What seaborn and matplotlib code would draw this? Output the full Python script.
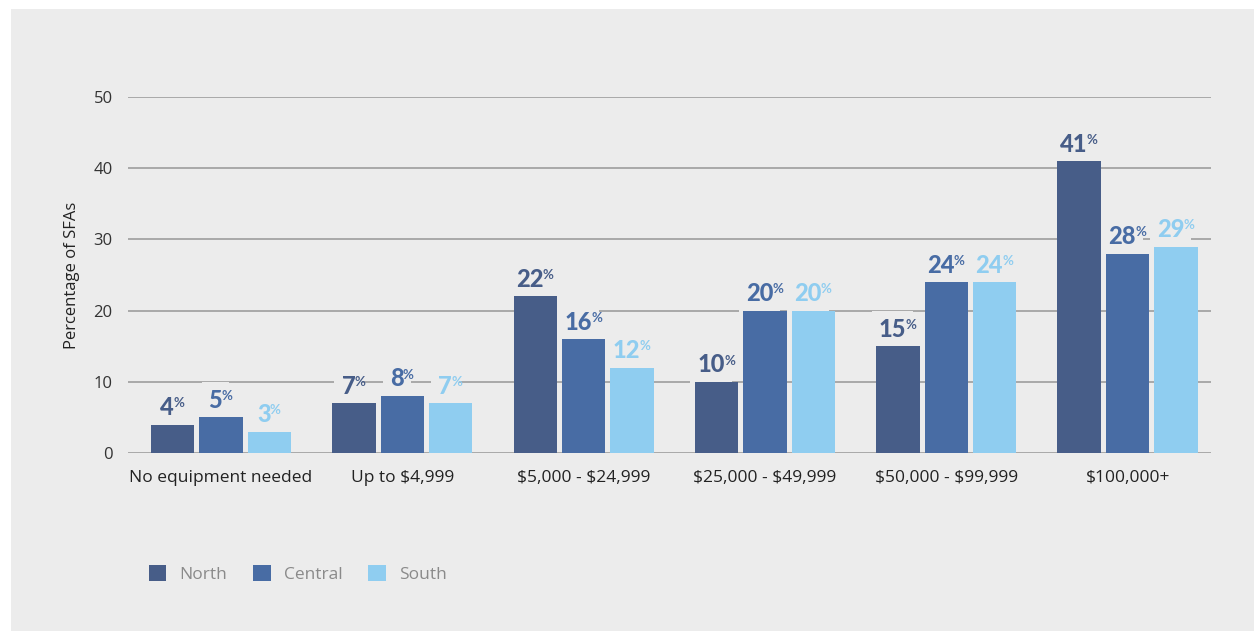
#import
import pandas as pd
import matplotlib.pyplot as plt
from matplotlib.patches import Rectangle
import seaborn as sns

#data
categories = ['No equipment needed', 'Up to $4,999', '$5,000 - $24,999',
              '$25,000 - $49,999', '$50,000 - $99,999', '$100,000+']
regions = ['North', 'Central', 'South']
north = [4, 7, 22, 10, 15, 41]
central = [5, 8, 16, 20, 24, 28]
south = [3, 7, 12, 20, 24, 29]
y_ticks = [0, 10, 20, 30, 40, 50]

#style
bg = '#ececec'
colors = ['#475d88', '#486ca4', '#8fcdf0']
sns.set_style('white')
plt.rcParams['font.family'] = ['Open Sans', 'DejaVu Sans']
plt.rcParams['text.parse_math'] = False

df = pd.DataFrame({
    'category': categories * 3,
    'region': [r for r in regions for _ in categories],
    'value': north + central + south,
})

fig = plt.figure(figsize=(12.54, 6.31), dpi=100)
fig.patch.set_facecolor('white')
fig.patches.append(Rectangle((11 / 1254, 0), 1, 1 - 9 / 631, transform=fig.transFigure,
                             facecolor=bg, edgecolor='none', zorder=-5))
ax = fig.add_axes([128 / 1254, 1 - 453 / 631, (1211 - 128) / 1254, (453 - 97) / 631])
ax.set_zorder(2)
ax.patch.set_alpha(0)

sns.barplot(data=df, x='category', y='value', hue='region', order=categories,
            hue_order=regions, palette=colors, width=0.8, gap=0.1,
            saturation=1, linewidth=0, ax=ax, zorder=3, legend=True)

#grid
for t in y_ticks:
    ax.axhline(t, color='#a3a3a3', lw=1.3, zorder=1)

ax.set_ylim(0, 50)
ax.set_xlim(-0.513, 5.46)
ax.set_yticks(y_ticks)
for s in ax.spines.values():
    s.set_visible(False)
ax.tick_params(axis='y', length=0, pad=11, labelsize=12, labelcolor='#333333')
ax.tick_params(axis='x', length=0, pad=12, labelsize=12.5, labelcolor='#222222')
ax.set_xlabel('')
ax.set_ylabel('Percentage of SFAs', fontsize=12, color='#222222', labelpad=10)

#value labels (box hides the grid behind them, bars stay on top)
for cont, col in zip(ax.containers, colors):
    for bar in cont:
        h = bar.get_height()
        xc = bar.get_x() + bar.get_width() / 2
        t = ax.annotate(f'{int(h)}', xy=(xc, h), xytext=(-4, 4), textcoords='offset points',
                        ha='center', va='bottom', fontsize=17, fontweight='black',
                        family=['Lato', 'DejaVu Sans'], color=col, zorder=2.5,
                        bbox=dict(boxstyle='square,pad=0.3', fc=bg, ec='none'))
        ax.annotate('%', xy=(1, 1), xycoords=t, xytext=(-0.5, -1), textcoords='offset points',
                    ha='left', va='top', fontsize=9.5, fontweight='bold',
                    family=['Lato', 'DejaVu Sans'], color=col, zorder=2.6)

#legend
handles, labels = ax.get_legend_handles_labels()
leg = ax.legend(handles, labels, loc='center left', bbox_to_anchor=(149 / 1254, 1 - 574 / 631),
                bbox_transform=fig.transFigure, ncol=3, frameon=False, fontsize=12.5,
                borderpad=0, borderaxespad=0,
                handlelength=1.0, handleheight=1.0, handletextpad=0.75, columnspacing=1.5,
                labelcolor='#8a8a8a')

fig.savefig('out.png', dpi=100, facecolor='white')
